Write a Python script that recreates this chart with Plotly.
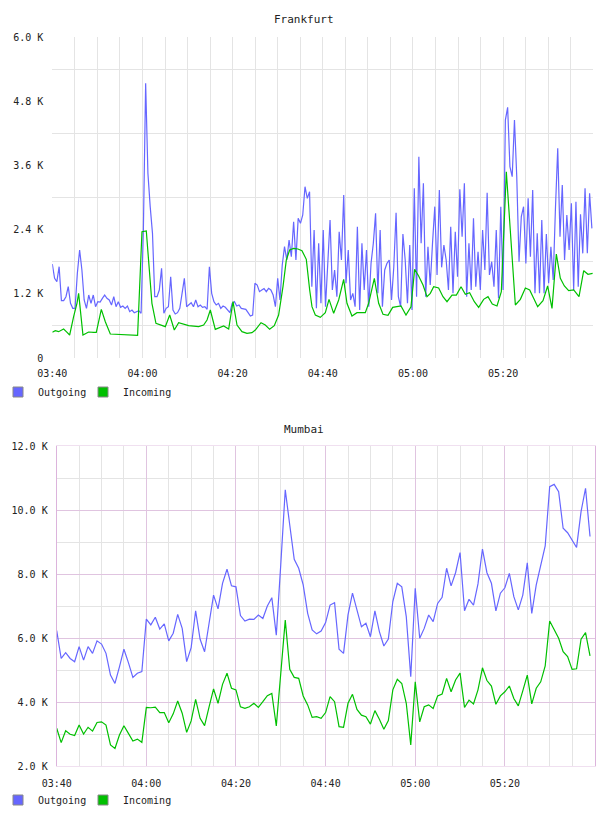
import pandas as pd
import plotly.graph_objects as go

# ---------------- data ----------------
start = "2024-01-01 03:40:00"
end = "2024-01-01 05:40:00"

x_tick_times = ["03:40", "04:00", "04:20", "04:40", "05:00", "05:20"]

# Frankfurt (values in K), outgoing sampled roughly every 30 s
fra_out = [1.757, 1.489, 1.427, 1.707, 1.072, 1.072, 1.146, 1.333, 1.022, 0.928,
           0.928, 1.582, 2.019, 1.645, 1.084, 0.928, 1.177, 1.022, 1.177, 0.959,
           1.053, 1.047, 1.115, 1.177, 1.115, 1.084, 0.991, 1.146, 0.959, 1.053,
           0.947, 0.972, 0.928, 0.972, 0.866, 0.897, 0.847, 0.866, 0.885, 0.835,
           2.392, 5.134, 3.451, 2.829, 2.330, 1.146, 1.146, 1.271, 1.676, 0.835,
           0.928, 0.959, 1.520, 0.897, 0.822, 0.847, 0.928, 1.209, 1.489, 0.959,
           0.991, 1.034, 0.959, 1.084, 0.959, 0.991, 0.947, 0.959, 0.910, 1.707,
           1.209, 1.053, 0.991, 1.022, 0.928, 0.972, 0.947, 0.897, 0.847, 1.022,
           1.053, 0.972, 0.991,
           0.928, 0.922, 0.910, 0.847, 0.785, 0.804, 1.396, 1.364, 1.240, 1.271,
           1.296, 1.240, 1.302, 1.271, 1.177, 0.959, 1.489, 1.084, 1.738, 2.081,
           1.832, 2.205, 1.894, 2.548, 1.832, 2.610, 2.517, 2.673, 3.202, 2.984,
           3.109, 1.333, 2.392, 0.928, 2.143, 1.022, 2.392, 0.959, 1.738, 2.579,
           1.271, 1.645, 1.146, 2.361, 1.832, 3.047, 1.396, 2.019, 1.084, 1.209,
           0.959, 2.455, 0.897, 2.143, 1.271, 2.019, 0.959, 1.769, 2.143, 2.704,
           1.209, 2.392, 0.959, 1.645, 1.769, 1.832, 1.084, 1.707, 2.716, 1.146,
           0.959, 2.318, 1.832, 1.022, 2.112, 0.897, 3.171, 1.146, 3.763, 2.143,
           3.265, 1.146, 2.081, 1.364,
           2.143, 2.829, 1.551, 3.140, 1.695, 2.112, 1.832, 1.271, 2.455, 1.209,
           2.361, 1.520, 3.153, 2.267, 3.265, 1.146, 2.143, 1.271, 2.610, 1.333,
           1.987, 1.271, 2.392, 1.645, 3.090, 1.551, 1.800, 1.333, 2.392, 1.115,
           2.829, 1.271, 4.448, 4.686, 3.576, 3.389, 4.448, 3.389, 1.800, 2.642,
           2.829, 1.769, 2.984, 1.894, 3.140, 1.209, 2.330, 1.209, 2.579, 1.209,
           2.318, 1.396, 2.081, 1.458, 2.798, 3.919, 2.267, 3.233, 1.832, 2.673,
           2.019, 2.891, 1.271, 2.922, 1.333, 2.685, 1.956, 3.171, 1.956, 3.078,
           2.423]
fra_out_step = "30300ms"

# Frankfurt incoming: irregular samples (minutes after 03:40, value in K)
fra_in_min = [0.0, 0.67, 1.40, 1.92, 2.51, 3.11, 3.85, 4.73, 5.47, 5.84,
              6.21, 6.80, 7.54, 8.06, 9.16, 9.76, 10.87, 11.76, 12.87, 18.92,
              19.89, 20.85, 22.10, 22.99, 25.07, 26.04, 27.06, 28.03, 30.24, 32.46,
              33.57, 34.32, 35.05, 36.15, 38.01, 39.12, 40.08, 40.97, 42.07, 43.18,
              44.29, 45.03, 46.29, 47.24, 48.21, 49.24, 50.20, 51.17, 51.91, 52.65,
              53.53, 54.49, 55.38, 56.34, 57.09, 57.60, 58.34, 59.45, 60.56, 61.38,
              62.41, 63.52, 64.63, 65.36, 66.47, 67.58, 69.43, 70.17, 71.43, 72.39,
              73.35, 74.46, 75.50, 76.45, 77.34, 78.45, 79.56, 80.37, 81.26, 82.23,
              83.11, 83.85, 84.59, 85.70, 86.66, 87.55, 88.66, 89.62, 90.66, 91.61,
              92.57, 93.61, 94.57, 95.68, 96.64, 97.60, 98.64, 99.60, 100.71, 102.71,
              103.82, 104.93, 105.89, 106.77, 107.66, 108.84, 109.87, 110.84, 111.80, 112.69,
              113.58, 114.54, 115.65, 116.83, 117.87, 118.82, 119.85]
fra_in = [0.480, 0.511, 0.492, 0.523, 0.542, 0.492, 0.430, 0.772, 1.022, 1.209,
          0.897, 0.430, 0.461, 0.486, 0.480, 0.480, 0.910, 0.679, 0.449, 0.424,
          2.361, 2.374, 1.022, 0.648, 0.586, 0.804, 0.523, 0.660, 0.604, 0.586,
          0.617, 0.710, 0.897, 0.536, 0.598, 0.542, 1.053, 0.617, 0.492, 0.461,
          0.474, 0.523, 0.660, 0.617, 0.536, 0.604, 0.804, 1.333, 1.832, 2.019,
          2.050, 2.037, 2.006, 1.844, 1.271, 0.959, 0.804, 0.760, 0.847, 1.096,
          0.835, 1.084, 1.470, 1.022, 0.785, 0.847, 0.847, 1.022, 1.489, 1.022,
          0.816, 0.797, 0.947, 0.959, 0.972, 0.804, 0.959, 1.657, 1.533, 1.364,
          1.146, 1.209, 1.333, 1.308, 1.146, 1.053, 1.177, 1.177, 1.333, 1.190,
          1.221, 1.053, 0.947, 1.096, 1.146, 1.009, 0.972, 1.240, 3.482, 0.991,
          1.096, 1.308, 1.271, 1.115, 0.959, 1.072, 1.346, 0.928, 1.944, 1.489,
          1.346, 1.259, 1.271, 1.146, 1.632, 1.564, 1.582]

fra_y_ticks = [0, 1.2, 2.4, 3.6, 4.8, 6.0]
fra_y_text = ["0", "1.2 K", "2.4 K", "3.6 K", "4.8 K", "6.0 K"]
fra_y_grid = [0.6, 1.8, 3.0, 4.2, 5.4]

# Mumbai (values in K), one sample per minute
mum_out = [6.23, 5.36, 5.54, 5.36, 5.26, 5.73, 5.31, 5.73, 5.52, 5.91,
           5.81, 5.52, 4.84, 4.58, 5.10, 5.65, 5.23, 4.77, 4.90, 4.95,
           6.59, 6.41, 6.65, 6.28, 6.44, 5.91, 6.15, 6.74, 6.30, 5.26,
           5.70, 6.85, 5.96, 5.57, 6.46, 7.34, 6.91, 7.71, 8.15, 7.63,
           7.60, 6.70, 6.53, 6.59, 6.58, 6.72, 6.61, 7.00, 7.26, 6.09,
           8.30, 10.63, 9.53, 8.46, 8.18, 7.66, 6.77, 6.25, 6.13, 6.22,
           6.48, 7.03, 7.10, 5.65, 5.52, 6.72, 7.40, 6.91, 6.35, 6.46,
           6.04, 6.85, 6.20, 5.75, 5.97, 7.14, 7.71, 7.60, 6.67, 4.79,
           7.55, 5.99, 6.30, 6.72, 6.51, 7.08, 7.27, 8.18, 7.63, 8.04,
           8.67, 6.85, 7.21, 7.03, 7.69, 8.78, 8.04, 7.71, 6.85, 7.40,
           7.57, 8.02, 7.29, 6.88, 7.34, 8.35, 6.77, 7.66, 8.31, 8.88,
           10.73, 10.80, 10.57, 9.43, 9.29, 9.06, 8.83, 9.95, 10.68, 9.17]
mum_in = [3.18, 2.73, 3.10, 2.99, 2.95, 3.28, 3.00, 3.21, 3.09, 3.36,
          3.38, 3.28, 2.66, 2.55, 2.97, 3.26, 3.02, 2.78, 2.84, 2.74,
          3.83, 3.82, 3.84, 3.67, 3.67, 3.35, 3.63, 4.03, 3.65, 3.05,
          3.41, 4.08, 3.49, 3.26, 3.85, 4.41, 3.96, 4.55, 4.90, 4.43,
          4.38, 3.85, 3.80, 3.85, 3.96, 3.83, 4.01, 4.20, 4.27, 3.25,
          4.90, 6.56, 5.02, 4.77, 4.74, 4.19, 3.91, 3.52, 3.54, 3.49,
          3.67, 4.17, 4.01, 3.23, 3.21, 3.96, 4.24, 3.77, 3.59, 3.54,
          3.31, 3.73, 3.46, 3.15, 3.42, 4.38, 4.71, 4.58, 3.96, 2.66,
          4.63, 3.38, 3.85, 3.91, 3.80, 4.19, 4.25, 4.74, 4.32, 4.69,
          4.90, 3.83, 4.06, 3.94, 4.38, 5.07, 4.67, 4.50, 3.93, 4.19,
          4.32, 4.50, 4.11, 3.88, 4.35, 4.84, 3.94, 4.43, 4.63, 5.13,
          6.53, 6.25, 5.99, 5.57, 5.42, 5.02, 5.04, 5.96, 6.17, 5.44]
mum_step = "1min"

mum_y_ticks = [2, 4, 6, 8, 10, 12]
mum_y_text = ["2.0 K", "4.0 K", "6.0 K", "8.0 K", "10.0 K", "12.0 K"]
mum_y_minor = [3, 5, 7, 9, 11]

series_names = ["Outgoing", "Incoming"]
series_colors = ["#6666ff", "#00c000"]

# ---------------- build ----------------
t0 = pd.Timestamp(start)
fra_out_t = pd.date_range(t0, periods=len(fra_out), freq=fra_out_step)
fra_in_t = t0 + pd.to_timedelta(fra_in_min, unit="min")
mum_t = pd.date_range(t0, periods=len(mum_out), freq=mum_step)
tickvals = [pd.Timestamp("2024-01-01 " + s) for s in x_tick_times]

FONT = "DejaVu Sans Mono"
TXT = "#222222"
W, H = 608, 816

fig = go.Figure()

fig.add_trace(go.Scatter(x=fra_out_t, y=fra_out, mode="lines", line=dict(color=series_colors[0], width=1.2),
                         showlegend=False, xaxis="x", yaxis="y"))
fig.add_trace(go.Scatter(x=fra_in_t, y=fra_in, mode="lines", line=dict(color=series_colors[1], width=1.2),
                         showlegend=False, xaxis="x", yaxis="y"))
fig.add_trace(go.Scatter(x=mum_t, y=mum_out, mode="lines", line=dict(color=series_colors[0], width=1.2),
                         showlegend=False, xaxis="x2", yaxis="y2"))
fig.add_trace(go.Scatter(x=mum_t, y=mum_in, mode="lines", line=dict(color=series_colors[1], width=1.2),
                         showlegend=False, xaxis="x2", yaxis="y2"))

# legend swatches (square markers, legend only); one legend box per item so each can be placed
legend_boxes = {}
for k, (xa, ya, ypx) in enumerate([("x", "y", 392), ("x2", "y2", 800)]):
    for j, (name, col) in enumerate(zip(series_names, series_colors)):
        lg_id = "legend" if (k == 0 and j == 0) else "legend%d" % (k * 2 + j + 1)
        fig.add_trace(go.Scatter(x=[None], y=[None], mode="markers", name=name,
                                 marker=dict(symbol="square", size=10, color=col,
                                             line=dict(color="#888888", width=1)),
                                 legend=lg_id, xaxis=xa, yaxis=ya, showlegend=True))
        legend_boxes[lg_id] = dict(
            orientation="h", x=(-2 if j == 0 else 83) / W, y=1 - ypx / H,
            xanchor="left", yanchor="middle",
            font=dict(family=FONT, size=10, color=TXT), itemwidth=30,
            bgcolor="rgba(0,0,0,0)", borderwidth=0)

grid_gray = "#e4e4e4"
pink = "#e0c4e0"

common_x = dict(type="date", range=[start, end], tickmode="array", tickvals=tickvals, ticktext=x_tick_times,
                tickfont=dict(family=FONT, size=10, color=TXT), ticks="", ticklabelstandoff=8,
                zeroline=False, fixedrange=True, automargin=False)

fig.update_layout(
    width=W, height=H, margin=dict(l=0, r=0, t=0, b=0, autoexpand=False),
    paper_bgcolor="white", plot_bgcolor="white",
    font=dict(family=FONT, size=10, color=TXT),
    xaxis=dict(**common_x, domain=[52.3 / W, 593.3 / W], anchor="y",
               showgrid=True, gridcolor=grid_gray, gridwidth=1,
               minor=dict(dtick=300000, tick0=start, showgrid=True, gridcolor=grid_gray, gridwidth=1),
               showline=False),
    yaxis=dict(domain=[1 - 358 / H, 1 - 37 / H], anchor="x", range=[0, 6.0], automargin=False,
               tickmode="array", tickvals=fra_y_ticks, ticktext=fra_y_text,
               tickfont=dict(family=FONT, size=10, color=TXT), ticks="", ticklabelstandoff=8,
               showgrid=False, zeroline=False, showline=False,
               minor=dict(tickmode="array", tickvals=fra_y_grid, showgrid=True, gridcolor=grid_gray, gridwidth=1)),
    xaxis2=dict(**common_x, domain=[56.7 / W, 594.5 / W], anchor="y2",
                showgrid=True, gridcolor=pink, gridwidth=1,
                minor=dict(dtick=300000, tick0=start, showgrid=True, gridcolor=grid_gray, gridwidth=1),
                showline=True, linecolor="#f0e0f0", linewidth=1, mirror=True),
    yaxis2=dict(domain=[1 - 766 / H, 1 - 446 / H], anchor="x2", range=[2.0, 12.0], automargin=False,
                tickmode="array", tickvals=mum_y_ticks, ticktext=mum_y_text,
                tickfont=dict(family=FONT, size=10, color=TXT), ticks="", ticklabelstandoff=6,
                showgrid=True, gridcolor=pink, gridwidth=1, zeroline=False,
                showline=True, linecolor="#dcb4dc", linewidth=1, mirror=True,
                minor=dict(tickmode="array", tickvals=mum_y_minor, showgrid=True, gridcolor=grid_gray, gridwidth=1)),
    annotations=[
        dict(text="Frankfurt", x=0.5, y=1 - 19 / H, xref="paper", yref="paper", showarrow=False,
             font=dict(family=FONT, size=11, color=TXT), xanchor="center", yanchor="middle"),
        dict(text="Mumbai", x=0.5, y=1 - 429 / H, xref="paper", yref="paper", showarrow=False,
             font=dict(family=FONT, size=11, color=TXT), xanchor="center", yanchor="middle"),
    ],
    hovermode=False,
)
fig.update_layout(**legend_boxes)

fig.write_html("out.html")
